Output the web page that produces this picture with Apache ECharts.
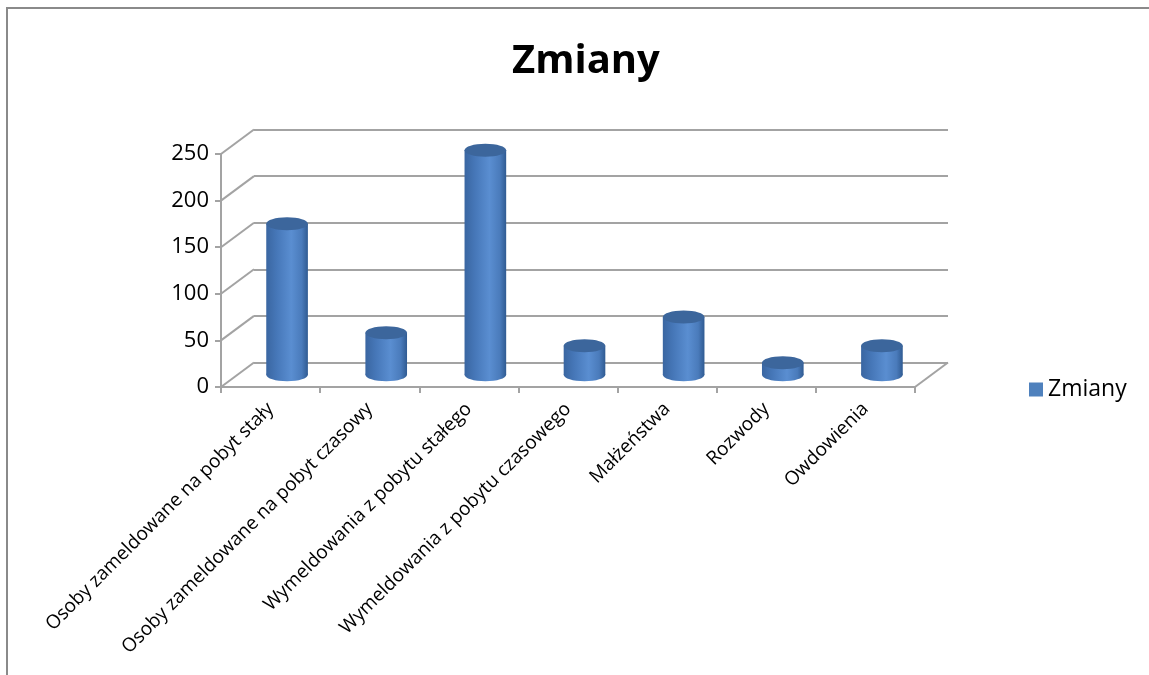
<!DOCTYPE html>
<html>
<head>
<meta charset="utf-8">
<script src="https://cdn.jsdelivr.net/npm/echarts@6/dist/echarts.min.js"></script>
<style>html,body{margin:0;padding:0;background:#fff;}#c{width:1149px;height:675px;}</style>
</head>
<body>
<div id="c"></div>
<script>
const categories = [
  'Osoby zameldowane na pobyt stały',
  'Osoby zameldowane na pobyt czasowy',
  'Wymeldowania z pobytu stałego',
  'Wymeldowania z pobytu czasowego',
  'Małżeństwa',
  'Rozwody',
  'Owdowienia'
];
const values = [162, 45, 241, 31, 62, 13, 31];
const yTicks = [0, 50, 100, 150, 200, 250];
const seriesName = 'Zmiany';

const DX = 33, DY = -24.5;
const FONT = '"Open Sans", sans-serif';
const GRID_COLOR = '#a3a3a3';

const chart = echarts.init(document.getElementById('c'));

function cylinder(params, api) {
  const i = api.value(0), v = api.value(1);
  const base = api.coord([i, 0]);
  const top = api.coord([i, v]);
  const w = api.size([1, 0])[0] * 0.42;
  const cx = base[0] + DX / 2;
  const by = base[1] + DY / 2;
  const ty = top[1] + DY / 2;
  const rx = w / 2, ry = 6.5;
  const grad = new echarts.graphic.LinearGradient(0, 0, 1, 0, [
    { offset: 0, color: '#3a66a1' },
    { offset: 0.25, color: '#4677b8' },
    { offset: 0.6, color: '#5a8ed1' },
    { offset: 0.85, color: '#4a7bbb' },
    { offset: 1, color: '#305b92' }
  ]);
  return {
    type: 'group',
    children: [
      { type: 'ellipse', shape: { cx: cx, cy: by, rx: rx, ry: ry }, style: { fill: grad } },
      { type: 'rect', shape: { x: cx - rx, y: ty, width: w, height: Math.max(0, by - ty) }, style: { fill: grad } },
      { type: 'ellipse', shape: { cx: cx, cy: ty, rx: rx, ry: ry }, style: { fill: '#3c669c' } }
    ]
  };
}

function walls(params, api) {
  const v = api.value(0);
  const cs = params.coordSys;
  const p = api.coord([0, v]);
  const y = p[1];
  const children = [
    { type: 'line', shape: { x1: cs.x, y1: y, x2: cs.x + DX, y2: y + DY }, style: { stroke: GRID_COLOR, lineWidth: 2 } }
  ];
  if (v === 0) {
    children.push({ type: 'line', shape: { x1: cs.x + cs.width, y1: y, x2: cs.x + cs.width + DX, y2: y + DY }, style: { stroke: GRID_COLOR, lineWidth: 2 } });
  }
  return { type: 'group', children: children };
}

chart.setOption({
  animation: false,
  backgroundColor: '#ffffff',
  title: {
    text: 'Zmiany',
    left: 507,
    top: 37,
    textStyle: { fontFamily: FONT, fontWeight: 'bold', fontSize: 40, color: '#000' }
  },
  legend: {
    data: [{ name: seriesName, icon: 'rect' }],
    left: 1024,
    top: 373,
    itemWidth: 14,
    itemHeight: 14,
    itemGap: 6,
    textStyle: { fontFamily: FONT, fontSize: 23, color: '#000' }
  },
  graphic: [
    { type: 'polyline', shape: { points: [[7, 675], [7, 8], [1149, 8]] }, style: { stroke: '#8a8a8a', lineWidth: 2, fill: null } }
  ],
  grid: [
    { left: 221, right: 234, top: 154, bottom: 288 },
    { left: 221 + DX, right: 234 - DX, top: 154 + DY, bottom: 288 - DY }
  ],
  xAxis: [
    {
      type: 'category', gridIndex: 0, data: categories,
      axisLine: { lineStyle: { color: GRID_COLOR, width: 2 } },
      axisTick: { show: true, length: 6, lineStyle: { color: GRID_COLOR, width: 2 } },
      axisLabel: { rotate: 45, margin: 19, fontFamily: FONT, fontSize: 19, color: '#000', interval: 0 }
    },
    { type: 'category', gridIndex: 1, data: categories, show: false }
  ],
  yAxis: [
    {
      type: 'value', gridIndex: 0, min: 0, max: 250, interval: 50,
      axisLine: { show: true, lineStyle: { color: GRID_COLOR, width: 2 } },
      axisTick: { show: true, length: 6, lineStyle: { color: GRID_COLOR, width: 2 } },
      splitLine: { show: false },
      axisLabel: { fontFamily: FONT, fontSize: 22, color: '#000', margin: 12 }
    },
    {
      type: 'value', gridIndex: 1, min: 0, max: 250, interval: 50,
      axisLine: { show: false }, axisTick: { show: false }, axisLabel: { show: false },
      splitLine: { show: true, lineStyle: { color: GRID_COLOR, width: 2 } }
    }
  ],
  series: [
    {
      type: 'custom', name: '_walls', xAxisIndex: 0, yAxisIndex: 0,
      renderItem: walls, data: yTicks.map(t => [t]), silent: true, z: 1
    },
    {
      type: 'custom', name: seriesName, xAxisIndex: 0, yAxisIndex: 0,
      itemStyle: { color: '#4f81bd' },
      renderItem: cylinder,
      data: values.map((v, i) => [i, v]),
      z: 5
    }
  ]
});
</script>
</body>
</html>
